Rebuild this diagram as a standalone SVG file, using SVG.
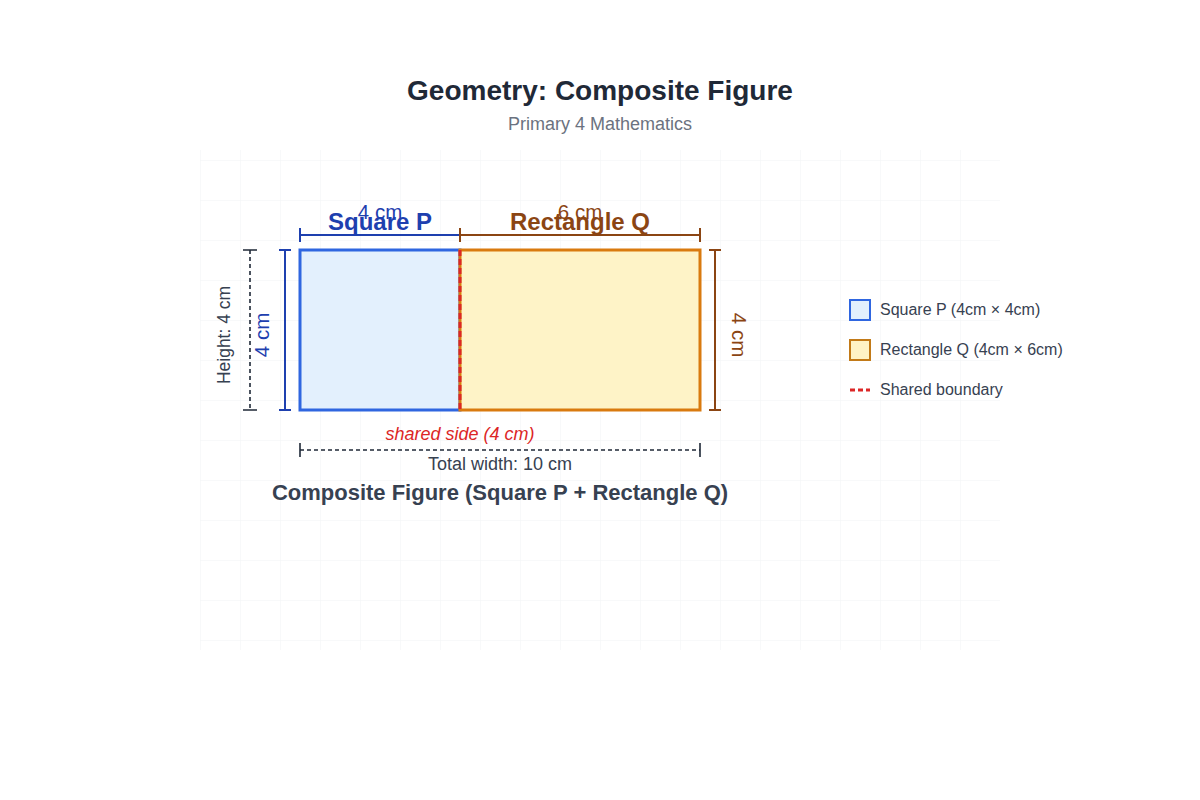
<svg xmlns="http://www.w3.org/2000/svg" width="1200" height="800" viewBox="0 0 1200 800">
<style>
text{font-family:"Liberation Sans",Arial,sans-serif}
.title{font-size:28px;font-weight:bold;fill:#1f2937}
.sub{font-size:18px;fill:#6b7280}
.blue{fill:#1e40af}
.brown{fill:#8b4513}
.lbl{font-size:24px;font-weight:bold}
.dim{font-size:20.5px}
.gray{fill:#374151}
.leg{font-size:16px;fill:#374151}
.bl{stroke:#1e40af;stroke-width:2;fill:none}
.br{stroke:#8b4513;stroke-width:2;fill:none}
.dk{stroke:#1f2937;stroke-width:1.6;fill:none}
.dash{stroke-dasharray:4,3}
</style>
<defs>
<pattern id="grid" width="40" height="40" patternUnits="userSpaceOnUse">
<path d="M40 0H0V40" fill="none" stroke="#f1f3f5" stroke-width="1"/>
</pattern>
</defs>
<rect width="1200" height="800" fill="#ffffff"/>
<rect x="200" y="150" width="800" height="500" fill="url(#grid)"/>
<text class="title" x="600" y="100" text-anchor="middle">Geometry: Composite Figure</text>
<text class="sub" x="600" y="130" text-anchor="middle">Primary 4 Mathematics</text>
<g id="squareP">
<rect x="300" y="250" width="160" height="160" fill="#e3f0fd" stroke="#2f66e0" stroke-width="3"/>
</g>
<g id="rectQ">
<rect x="460" y="250" width="240" height="160" fill="#fef3c7" stroke="#d97a0f" stroke-width="3"/>
</g>
<g id="shared">
<line x1="460" y1="250" x2="460" y2="410" stroke="#dc2626" stroke-width="3" stroke-dasharray="6,3"/>
</g>
<g id="connectors">
<path class="bl" d="M300 235H460M300 228V242"/>
<path class="br" d="M460 235H700M460 228V242M700 228V242"/>
<path class="bl" d="M285 250V410M279 250H291M279 410H291"/>
<path class="dk dash" d="M250 250V410"/>
<path class="dk" d="M243 250H257M243 410H257"/>
<path class="br" d="M715 250V410M709 250H721M709 410H721"/>
<path class="dk dash" d="M300 450H700"/>
<path class="dk" d="M300 443V457M700 443V457"/>
</g>
<g id="labels">
<text class="dim blue" x="380" y="219" text-anchor="middle">4 cm</text>
<text class="lbl blue" x="380" y="230" text-anchor="middle">Square P</text>
<text class="dim brown" x="580" y="219" text-anchor="middle">6 cm</text>
<text class="lbl brown" x="580" y="230" text-anchor="middle">Rectangle Q</text>
<text class="dim blue" transform="translate(269,335) rotate(-90)" text-anchor="middle">4 cm</text>
<text class="gray" style="font-size:17.5px" transform="translate(230,335) rotate(-90)" text-anchor="middle">Height: 4 cm</text>
<text class="dim brown" transform="translate(732,335) rotate(90)" text-anchor="middle">4 cm</text>
<text x="460" y="440" text-anchor="middle" style="font-size:18px;font-style:italic;fill:#dc2626">shared side (4 cm)</text>
<text class="gray" x="500" y="470" text-anchor="middle" style="font-size:18px">Total width: 10 cm</text>
<text class="gray" x="500" y="500" text-anchor="middle" style="font-size:22px;font-weight:bold">Composite Figure (Square P + Rectangle Q)</text>
</g>
<g id="legend">
<rect x="850" y="300" width="20" height="20" fill="#e3f0fd" stroke="#2f66e0" stroke-width="2"/>
<text class="leg" x="880" y="315">Square P (4cm × 4cm)</text>
<rect x="850" y="340" width="20" height="20" fill="#fef3c7" stroke="#c27a18" stroke-width="2"/>
<text class="leg" x="880" y="355">Rectangle Q (4cm × 6cm)</text>
<line x1="850" y1="390" x2="870" y2="390" stroke="#dc2626" stroke-width="3" stroke-dasharray="5,3"/>
<text class="leg" x="880" y="395">Shared boundary</text>
</g>
</svg>
